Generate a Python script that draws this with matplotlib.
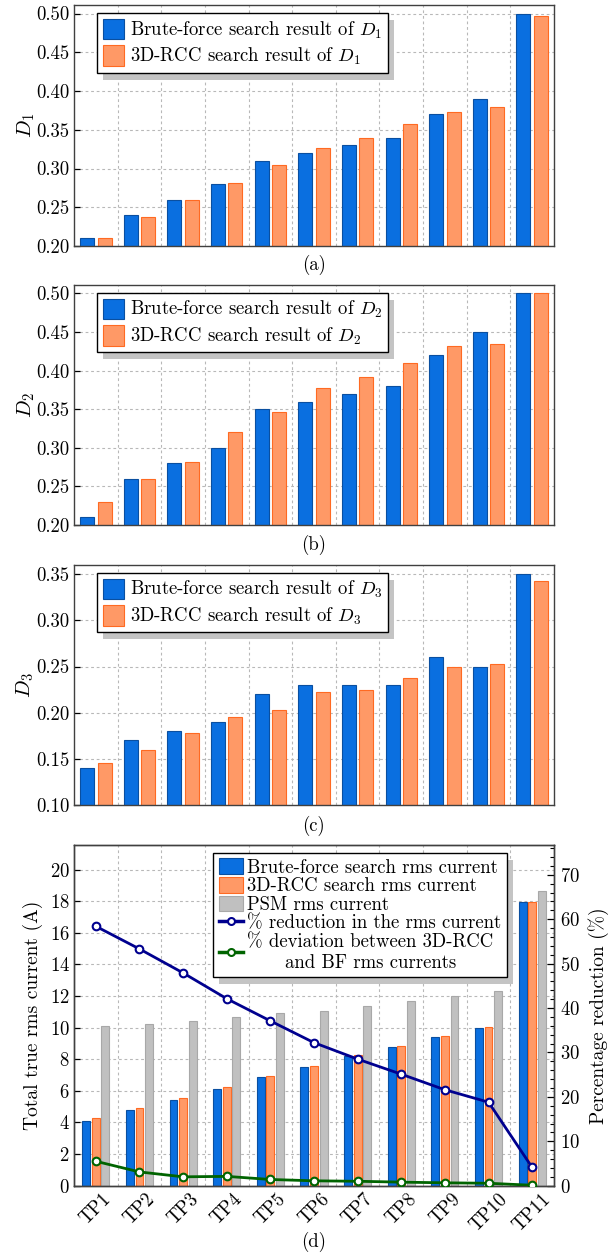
import numpy as np
import matplotlib.pyplot as plt
from matplotlib.patches import Rectangle
from matplotlib.lines import Line2D
from matplotlib.transforms import IdentityTransform
from matplotlib.ticker import MultipleLocator, FormatStrFormatter

plt.rcParams.update({
    'font.family': 'serif',
    'font.serif': ['cmr10'],
    'mathtext.fontset': 'cm',
    'axes.formatter.use_mathtext': True,
    'font.size': 13,
})

# test points
cases = ['TP1', 'TP2', 'TP3', 'TP4', 'TP5', 'TP6', 'TP7', 'TP8', 'TP9', 'TP10', 'TP11']

# duty ratios: brute-force vs 3D-RCC search
d1_bf = [0.21, 0.24, 0.26, 0.28, 0.31, 0.32, 0.33, 0.34, 0.37, 0.39, 0.50]
d1_rcc = [0.21, 0.237, 0.259, 0.281, 0.304, 0.326, 0.340, 0.358, 0.373, 0.380, 0.497]
d2_bf = [0.21, 0.26, 0.28, 0.30, 0.35, 0.36, 0.37, 0.38, 0.42, 0.45, 0.50]
d2_rcc = [0.23, 0.26, 0.282, 0.32, 0.347, 0.377, 0.392, 0.41, 0.432, 0.434, 0.50]
d3_bf = [0.14, 0.17, 0.18, 0.19, 0.22, 0.23, 0.23, 0.23, 0.26, 0.25, 0.35]
d3_rcc = [0.145, 0.16, 0.178, 0.195, 0.203, 0.222, 0.225, 0.238, 0.25, 0.253, 0.343]

# total true rms current (A)
irms_bf = [4.1, 4.8, 5.45, 6.15, 6.85, 7.52, 8.2, 8.8, 9.4, 10.0, 17.95]
irms_rcc = [4.3, 4.9, 5.55, 6.25, 6.95, 7.6, 8.25, 8.85, 9.45, 10.05, 17.95]
irms_psm = [10.1, 10.25, 10.45, 10.65, 10.9, 11.05, 11.4, 11.7, 12.0, 12.3, 18.65]

# percentages (right axis)
pct_reduction = [58.4, 53.3, 47.9, 42.1, 37.1, 32.2, 28.5, 25.1, 21.6, 18.8, 4.1]
pct_deviation = [5.5, 3.1, 2.0, 2.1, 1.4, 1.1, 1.0, 0.8, 0.65, 0.55, 0.1]

BLUE, BLUE_E = '#0a6fe0', '#0a4fa0'
ORANGE, ORANGE_E = '#ff9966', '#ff6a22'
GRAY, GRAY_E = '#c0c0c0', '#a8a8a8'
NAVY, GREEN = '#00008f', '#006400'
GRID = dict(color='#b8b8b8', lw=0.8, ls=(0, (2.5, 2.5)))

W_PX, H_PX = 611, 1256
fig = plt.figure(figsize=(W_PX / 100, H_PX / 100), dpi=100)


def axes_at(top, bottom, left=74, right=554):
    return fig.add_axes([left / W_PX, 1 - bottom / H_PX,
                         (right - left) / W_PX, (bottom - top) / H_PX])


def base_style(ax):
    for s in ax.spines.values():
        s.set_color('#404040')
        s.set_linewidth(1.0)
    ax.set_xlim(0.5, 11.5)
    ax.set_axisbelow(True)
    ax.set_xticks(np.arange(1.5, 11, 1), minor=True)
    ax.tick_params(axis='x', which='minor', length=0)
    ax.grid(True, which='minor', axis='x', **GRID)
    ax.grid(True, which='major', axis='y', **GRID)
    ax.tick_params(axis='y', direction='in', length=4, width=0.9, pad=3,
                   labelsize=13.5)


x = np.arange(1, 12)
legends = []

panels = [
    (5, 246, d1_bf, d1_rcc, '1', 0.20, 0.511, 0.20, '(a)', 265),
    (285, 525, d2_bf, d2_rcc, '2', 0.20, 0.511, 0.20, '(b)', 545),
    (565, 805, d3_bf, d3_rcc, '3', 0.10, 0.360, 0.10, '(c)', 826),
]
for top, bot, bf, rcc, k, y0, y1, t0, tag, tag_y in panels:
    ax = axes_at(top, bot)
    base_style(ax)
    ax.bar(x - 0.2, bf, 0.32, color=BLUE, edgecolor=BLUE_E, lw=0.8,
           label=r'Brute-force search result of $D_{%s}$' % k)
    ax.bar(x + 0.2, rcc, 0.32, color=ORANGE, edgecolor=ORANGE_E, lw=0.8,
           label=r'3D-RCC search result of $D_{%s}$' % k)
    ax.set_ylim(y0, y1)
    ax.set_yticks(np.arange(t0, y1, 0.05))
    ax.yaxis.set_major_formatter(FormatStrFormatter('%.2f'))
    ax.set_xticks([])
    ax.set_ylabel(r'$D_{%s}$' % k, fontsize=15, labelpad=0)
    leg = ax.legend(loc='upper left', bbox_to_anchor=(0.048, 0.966),
                    fancybox=False, framealpha=1, edgecolor='black',
                    fontsize=13.5, handlelength=1.15, handleheight=1.3,
                    handletextpad=0.3, labelspacing=0.25, borderpad=0.3,
                    borderaxespad=0)
    leg.get_frame().set_linewidth(1.0)
    legends.append((ax, leg))
    fig.text(314 / W_PX, 1 - tag_y / H_PX, tag, ha='center', va='center',
             fontsize=13.5)

# panel (d): rms currents and percentages
ax = axes_at(845, 1185.7)
base_style(ax)
ax.bar(x - 0.22, irms_bf, 0.18, color=BLUE, edgecolor=BLUE_E, lw=0.8)
ax.bar(x, irms_rcc, 0.18, color=ORANGE, edgecolor=ORANGE_E, lw=0.8)
ax.bar(x + 0.22, irms_psm, 0.18, color=GRAY, edgecolor=GRAY_E, lw=0.8)
ax.set_ylim(0, 21.56)
ax.set_yticks(np.arange(0, 21, 2))
ax.set_xticks(x)
ax.set_xticklabels(cases, rotation=45, ha='center', va='top', fontsize=13.5)
ax.tick_params(axis='x', which='major', length=0, pad=3)
ax.set_ylabel('Total true rms current (A)', fontsize=14, labelpad=5)

ax2 = ax.twinx()
ax2.set_xlim(0.5, 11.5)
ax2.set_ylim(0, 76.7)
ax2.yaxis.set_major_locator(MultipleLocator(10))
ax2.yaxis.set_minor_locator(MultipleLocator(2))
ax2.tick_params(axis='y', which='major', direction='in', length=5, width=0.9,
                pad=4, labelsize=13.5)
ax2.tick_params(axis='y', which='minor', direction='in', length=3, width=0.8)
for s in ax2.spines.values():
    s.set_color('#404040')
    s.set_linewidth(1.0)
ax2.plot(x, pct_reduction, color=NAVY, lw=2, marker='o', ms=5.5,
         mfc='white', mec=NAVY, mew=1.5, zorder=3)
ax2.plot(x, pct_deviation, color=GREEN, lw=2, marker='o', ms=5.5,
         mfc='white', mec=GREEN, mew=1.5, zorder=3)
ax2.set_ylabel('Percentage reduction (%)', fontsize=14, labelpad=6)

handles = [
    Rectangle((0, 0), 1, 1, fc=BLUE, ec=BLUE_E, lw=0.8),
    Rectangle((0, 0), 1, 1, fc=ORANGE, ec=ORANGE_E, lw=0.8),
    Rectangle((0, 0), 1, 1, fc=GRAY, ec=GRAY_E, lw=0.8),
    Line2D([], [], color=NAVY, lw=2.5, marker='o', ms=5, mfc='white',
           mec=NAVY, mew=1.5),
    Line2D([], [], color=GREEN, lw=2.5, marker='o', ms=5, mfc='white',
           mec=GREEN, mew=1.5),
]
labels = ['Brute-force search rms current', '3D-RCC search rms current',
          'PSM rms current', '% reduction in the rms current',
          '% deviation between 3D-RCC\nand BF rms currents']
leg = ax2.legend(handles, labels, loc='upper right',
                 bbox_to_anchor=(0.902, 0.977), fancybox=False, framealpha=1,
                 edgecolor='black', fontsize=13.5, handlelength=1.25,
                 handleheight=0.9, handletextpad=0.25, labelspacing=0.02,
                 borderpad=0.3, borderaxespad=0)
leg.get_frame().set_linewidth(1.0)
leg.get_texts()[4].set_multialignment('center')
legends.append((ax2, leg))
fig.text(314 / W_PX, 1 - 1241.7 / H_PX, '(d)', ha='center', va='center',
         fontsize=13.5)

# gray drop shadow behind every legend box
fig.canvas.draw()
for a, lg in legends:
    bb = lg.get_window_extent()
    a.add_artist(Rectangle((bb.x0 + 6, bb.y0 - 7), bb.width, bb.height,
                           transform=IdentityTransform(), fc='#c4c4c4',
                           ec='none', zorder=lg.get_zorder() - 0.1,
                           clip_on=False))

fig.savefig('out.png', dpi=100)
